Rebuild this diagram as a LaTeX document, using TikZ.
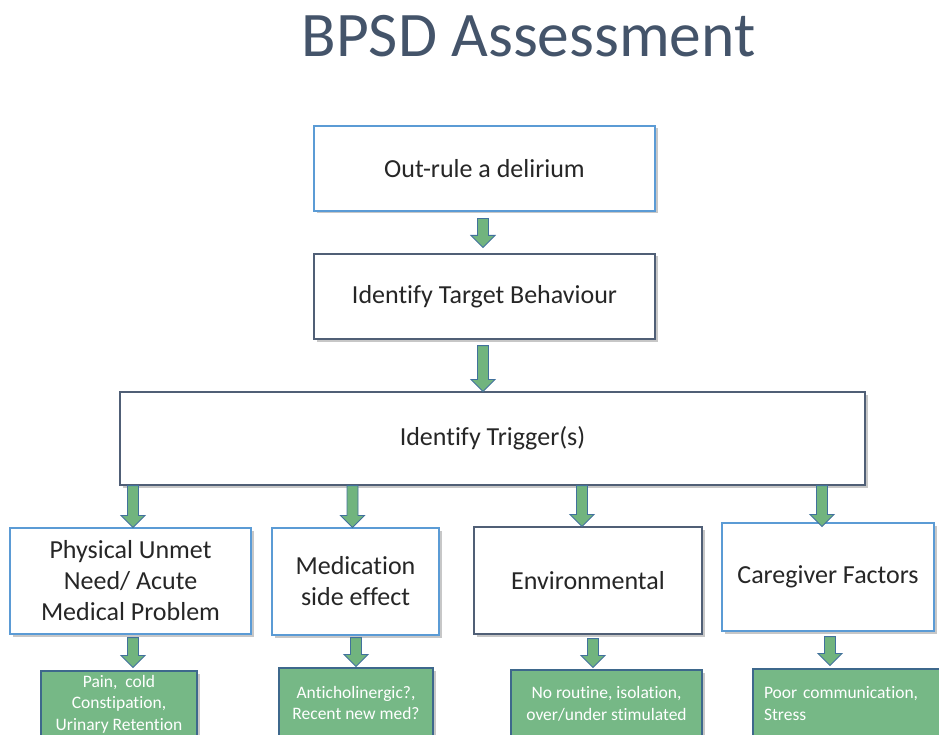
\documentclass[tikz,border=0pt]{standalone}
\usepackage{fontspec}
\setmainfont{Carlito}[Ligatures=NoCommon]
\usetikzlibrary{calc,shadows}
\definecolor{titlecol}{RGB}{68,84,106}
\definecolor{lightedge}{RGB}{91,155,213}
\definecolor{darkedge}{RGB}{80,95,118}
\definecolor{arrowfill}{RGB}{113,180,126}
\definecolor{arrowedge}{RGB}{65,113,156}
\definecolor{greenfill}{RGB}{118,184,134}
\definecolor{greenedge}{RGB}{62,104,140}
\definecolor{textcol}{RGB}{38,38,38}
\tikzset{
  shadowed/.style={drop shadow={shadow xshift=2.5pt,shadow yshift=-2.5pt,fill=black,opacity=0.22}},
  basebox/.style={fill=white,line width=1.1pt,inner sep=0pt,align=center,text=textcol,
    font=\fontsize{26}{31}\selectfont,shadowed},
  lbox/.style={basebox,draw=lightedge},
  dbox/.style={basebox,draw=darkedge},
  gbox/.style={draw=greenedge,fill=greenfill,line width=1.1pt,inner sep=0pt,align=center,
    text=white,font=\fontsize{17.5}{21.5}\selectfont,shadowed},
  garrow/.style={draw=arrowedge,fill=arrowfill,line width=0.9pt,line join=miter},
}
\newcommand{\blockarrow}[2]{%
  \draw[garrow] let \p1=(#1), \p2=(#2) in
    (\x2-5.5pt,\y1) -- (\x2-5.5pt,\y2+12pt) -- (\x2-12pt,\y2+12pt) -- (\x2,\y2)
    -- (\x2+12pt,\y2+12pt) -- (\x2+5.5pt,\y2+12pt) -- (\x2+5.5pt,\y1) -- cycle;}
\begin{document}
\begin{tikzpicture}[x=1pt,y=-1pt]
\useasboundingbox (0,0) rectangle (939,735);
\clip (0,0) rectangle (939,735);

\node[anchor=base,text=titlecol,font=\fontsize{63.5}{75}\selectfont,inner sep=0pt] (title) at (528.5,57) {BPSD Assessment};

\node[lbox,minimum width=341pt,minimum height=85pt] (out) at (484.5,168.5) {Out-rule a delirium};
\node[dbox,minimum width=341pt,minimum height=85pt] (tgt) at (484.5,296.5) {Identify Target Behaviour};
\node[dbox,minimum width=745pt,minimum height=93pt] (trig) at (492.5,438.5) {Identify Trigger(s)};

\node[lbox,minimum width=241pt,minimum height=106pt] (phys) at (130.5,581) {Physical Unmet\\Need/ Acute\\Medical Problem};
\node[lbox,minimum width=167pt,minimum height=107pt] (med) at (355.5,581.5) {Medication\\side effect};
\node[dbox,minimum width=228pt,minimum height=107pt] (env) at (588,580.5) {Environmental};
\node[lbox,minimum width=212pt,minimum height=108pt] (care) at (828,577) {Caregiver Factors};

\node[gbox,minimum width=156pt,minimum height=66pt] (pain) at (119,704) {Pain,\ \ cold\\Constipation,\\Urinary Retention};
\node[gbox,minimum width=154pt,minimum height=70pt] (anti) at (356,703) {Anticholinergic?,\\Recent new med?};
\node[gbox,minimum width=191pt,minimum height=68pt] (norout) at (606.5,704) {No routine, isolation,\\over/under stimulated};
\node[gbox,minimum height=69pt,text width=170pt,inner xsep=11pt,align=left] (poor) at (849,703.5) {Poor communication,\\Stress};

\blockarrow{$(out.south)+(0,7)$}{$(tgt.north)+(-1.5,-6)$}
\blockarrow{$(tgt.south)+(0,6)$}{$(tgt.south |- trig.north)+(-1.5,0)$}

\blockarrow{trig.south}{$(phys.north)+(2.5,0)$}
\blockarrow{trig.south}{$(med.north)+(-3,0)$}
\blockarrow{trig.south}{$(env.north)+(-6,0)$}
\blockarrow{trig.south}{$(care.north)+(-6,4)$}

\blockarrow{$(phys.south)+(0,3)$}{$(phys.south |- pain.north)+(2.5,-3)$}
\blockarrow{$(med.south)+(0,2)$}{$(med.south |- anti.north)+(0.5,-1)$}
\blockarrow{$(env.south)+(0,4)$}{$(env.south |- norout.north)+(5,-2)$}
\blockarrow{$(care.south)+(0,5)$}{$(care.south |- poor.north)+(2,-3)$}
\end{tikzpicture}
\end{document}
